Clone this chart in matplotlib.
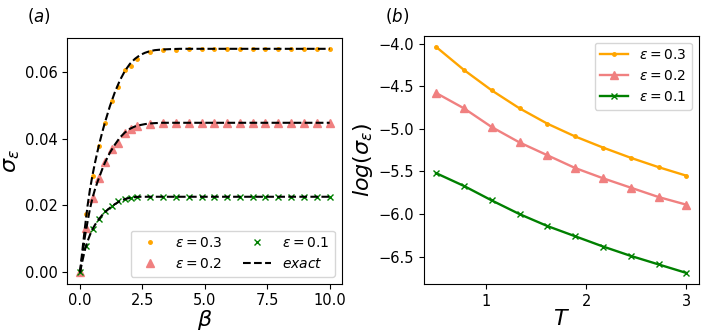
import matplotlib
matplotlib.use('Agg')
import matplotlib.pyplot as plt

# panel (a): sampled points
beta = [0, 0.26, 0.51, 0.77, 1.02, 1.28, 1.53, 1.79, 2.04, 2.3,
        2.81, 3.33, 3.84, 4.35, 4.87, 5.38, 5.89, 6.41, 6.92, 7.43,
        7.95, 8.46, 8.97, 9.49, 10.0]
sig_03 = [0, 0.0174, 0.0288, 0.0377, 0.0447, 0.0511, 0.0553, 0.0604, 0.0616, 0.0638,
          0.0658, 0.0663, 0.0665, 0.0666, 0.0668, 0.0667, 0.0667, 0.0667, 0.0667, 0.0667,
          0.0667, 0.0667, 0.0667, 0.0667, 0.0667]
sig_02 = [0, 0.0134, 0.0221, 0.0281, 0.0330, 0.0368, 0.0387, 0.0415, 0.0429, 0.0437,
          0.0442, 0.0446, 0.0447, 0.0447, 0.0447, 0.0447, 0.0447, 0.0447, 0.0447, 0.0447,
          0.0447, 0.0447, 0.0447, 0.0447, 0.0447]
sig_01 = [0, 0.0079, 0.0129, 0.0159, 0.0183, 0.0199, 0.0212, 0.0218, 0.0222, 0.0224,
          0.0226, 0.0226, 0.0226, 0.0226, 0.0226, 0.0226, 0.0226, 0.0226, 0.0226, 0.0226,
          0.0226, 0.0226, 0.0226, 0.0226, 0.0226]

# panel (a): exact curves
beta_ex = [0, 0.1, 0.2, 0.3, 0.4, 0.5, 0.6, 0.7, 0.8, 0.9, 1.0, 1.2, 1.4, 1.6, 1.8,
           2.0, 2.2, 2.4, 2.6, 2.8, 3.0, 3.3, 3.6, 4.0, 5.0, 10.0]
ex_03 = [0, 0.0068, 0.0135, 0.0197, 0.0248, 0.0290, 0.0327, 0.0361, 0.0392, 0.0421,
         0.0448, 0.0497, 0.0539, 0.0574, 0.0602, 0.0623, 0.0638, 0.0649, 0.0656, 0.0661,
         0.0664, 0.0666, 0.0667, 0.0668, 0.0668, 0.0668]
ex_02 = [0, 0.0055, 0.0108, 0.0150, 0.0190, 0.0222, 0.0248, 0.0270, 0.0290, 0.0310,
         0.0328, 0.0358, 0.0382, 0.0403, 0.0418, 0.0429, 0.0436, 0.0440, 0.0443, 0.0445,
         0.0446, 0.0447, 0.0447, 0.0447, 0.0447, 0.0447]
ex_01 = [0, 0.0035, 0.0068, 0.0092, 0.0112, 0.0129, 0.0142, 0.0153, 0.0163, 0.0172,
         0.0180, 0.0193, 0.0204, 0.0213, 0.0219, 0.0223, 0.0225, 0.0226, 0.0226, 0.0226,
         0.0226, 0.0226, 0.0226, 0.0226, 0.0226, 0.0226]

# panel (b)
T = [0.5, 0.778, 1.056, 1.333, 1.611, 1.889, 2.167, 2.444, 2.722, 3.0]
log_03 = [-4.04, -4.31, -4.55, -4.76, -4.94, -5.09, -5.22, -5.34, -5.45, -5.55]
log_02 = [-4.58, -4.76, -4.98, -5.16, -5.31, -5.46, -5.58, -5.69, -5.80, -5.89]
log_01 = [-5.52, -5.67, -5.84, -6.00, -6.14, -6.26, -6.38, -6.49, -6.59, -6.69]

c3, c2, c1 = 'orange', 'lightcoral', 'green'

fig = plt.figure(figsize=(7.06, 3.36), dpi=100)
ax1 = fig.add_axes([0.0956, 0.156, 0.389, 0.732])
ax2 = fig.add_axes([0.600, 0.154, 0.390, 0.740])

ax1.plot(beta, sig_03, '.', color=c3, ms=5, label=r'$\epsilon = 0.3$')
ax1.plot(beta, sig_02, '^', color=c2, ms=5.5, label=r'$\epsilon = 0.2$')
ax1.plot(beta, sig_01, 'x', color=c1, ms=5, label=r'$\epsilon = 0.1$')
ax1.plot(beta_ex, ex_03, '--', color='k', lw=1.5, label=r'$exact$')
ax1.plot(beta_ex, ex_02, '--', color='k', lw=1.5)
ax1.plot(beta_ex, ex_01, '--', color='k', lw=1.5)
ax1.set_xlabel(r'$\beta$', fontsize=16, labelpad=0)
ax1.set_ylabel(r'$\sigma_\epsilon$', fontsize=16, labelpad=2)
ax1.set_xticks([0, 2.5, 5, 7.5, 10])
ax1.set_yticks([0, 0.02, 0.04, 0.06])
ax1.tick_params(labelsize=10.5)
ax1.legend(loc='lower right', ncol=2, fontsize=10, columnspacing=1.5)

ax2.plot(T, log_03, '.-', color=c3, lw=1.7, ms=5, label=r'$\epsilon = 0.3$')
ax2.plot(T, log_02, '^-', color=c2, lw=1.7, ms=5.5, label=r'$\epsilon = 0.2$')
ax2.plot(T, log_01, 'x-', color=c1, lw=1.7, ms=5, label=r'$\epsilon = 0.1$')
ax2.set_xlabel(r'$T$', fontsize=16, labelpad=0)
ax2.set_ylabel(r'$log(\sigma_\epsilon)$', fontsize=16, labelpad=2)
ax2.set_xticks([1, 2, 3])
ax2.tick_params(labelsize=10.5)
ax2.legend(loc='upper right', fontsize=10)

fig.text(0.038, 0.935, r'$(a)$', fontsize=12)
fig.text(0.545, 0.935, r'$(b)$', fontsize=12)

fig.savefig('out.png', dpi=100)
